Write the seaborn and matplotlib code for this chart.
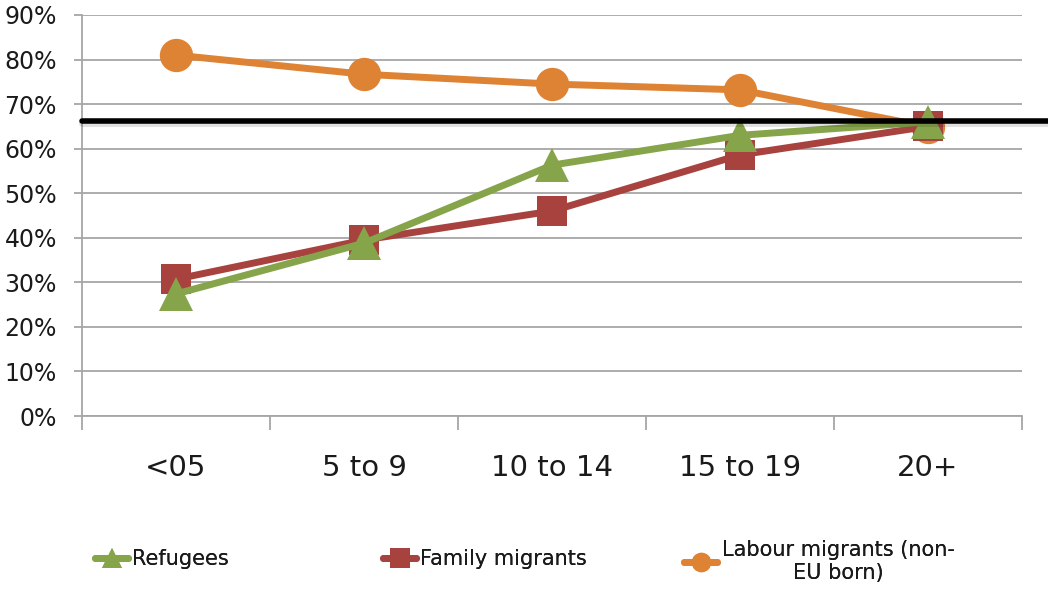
import matplotlib
matplotlib.use("Agg")
import matplotlib.pyplot as plt
import seaborn as sns
import pandas as pd
import numpy as np
from matplotlib.lines import Line2D
from matplotlib.ticker import PercentFormatter, FixedLocator

categories = ["<05", "5 to 9", "10 to 14", "15 to 19", "20+"]
refugees = [0.274, 0.388, 0.563, 0.630, 0.660]
family = [0.307, 0.395, 0.460, 0.586, 0.650]
labour = [0.810, 0.767, 0.745, 0.732, 0.649]
reference_level = 0.662
series_names = ["Refugees", "Family migrants", "Labour migrants (non-\nEU born)"]
y_ticks = [0, 0.1, 0.2, 0.3, 0.4, 0.5, 0.6, 0.7, 0.8, 0.9]

sns.set_theme(style="white")
plt.rcParams["font.family"] = ["DejaVu Sans"]

c_green = "#86A44A"
c_red = "#A8423F"
c_orange = "#DE8234"

fig = plt.figure(figsize=(10.48, 5.90), dpi=100)
ax = fig.add_axes([82/1048, 1-416/590, 940/1048, 401/590])

df = pd.DataFrame({"cat": categories * 3,
                   "val": labour + family + refugees,
                   "series": [series_names[2]]*5 + [series_names[1]]*5 + [series_names[0]]*5})

specs = [(series_names[2], c_orange, "o", 24),
         (series_names[1], c_red, "s", 22),
         (series_names[0], c_green, "^", 24)]
for i, (name, col, mk, ms) in enumerate(specs):
    sub = df[df["series"] == name]
    sns.lineplot(data=sub, x="cat", y="val", ax=ax, color=col, marker=mk,
                 markersize=ms, markeredgewidth=0, linewidth=5, legend=False,
                 zorder=3 + i, sort=False)

ax.set_xlim(-0.5, 4.5)
ax.set_ylim(0, 0.9)
ax.set_xlabel("")
ax.set_ylabel("")

# reference line extending to figure edge
ax.axhline(reference_level - 0.004, xmin=0, xmax=(1048-82)/940, color="#000000",
           alpha=0.12, linewidth=5, clip_on=False, zorder=9)
ax.axhline(reference_level, xmin=0, xmax=(1048-82)/940, color="black",
           linewidth=4, clip_on=False, zorder=10)

ax.yaxis.set_major_locator(FixedLocator(y_ticks))
ax.yaxis.set_major_formatter(PercentFormatter(1.0, decimals=0))
ax.grid(axis="y", color="#A6A6A6", linewidth=1.3)
ax.grid(axis="x", visible=False)
ax.set_axisbelow(True)

for s in ["top", "right"]:
    ax.spines[s].set_visible(False)
ax.spines["left"].set_color("#A6A6A6")
ax.spines["left"].set_linewidth(1.3)
ax.spines["bottom"].set_color("#A6A6A6")
ax.spines["bottom"].set_linewidth(1.3)

ax.set_xticks(range(len(categories)))
ax.set_xticklabels(categories)
ax.set_xticks(np.arange(-0.5, 5.0, 1.0), minor=True)
ax.tick_params(axis="x", which="major", length=0, pad=27, labelsize=21, labelcolor="#1a1a1a")
ax.tick_params(axis="x", which="minor", length=10, width=1.3, color="#A6A6A6", direction="out", bottom=True)
ax.tick_params(axis="y", which="major", length=6, width=1.3, color="#A6A6A6", direction="out",
               left=True, pad=12, labelsize=17, labelcolor="#1a1a1a")

# legends
leg_specs = [(series_names[0], c_green, "^", (95/1048, 1-549/590)),
             (series_names[1], c_red, "s", (383/1048, 1-549/590)),
             (series_names[2], c_orange, "o", (684/1048, 1-540/590))]
for name, col, mk, pos in leg_specs:
    h = Line2D([], [], color=col, marker=mk, markersize=14, linewidth=5, markeredgewidth=0)
    lg = fig.legend(handles=[h], labels=[name], loc="upper left", bbox_to_anchor=pos,
                    frameon=False, fontsize=15, handlelength=1.6, handletextpad=0.2,
                    borderaxespad=0, borderpad=0)
    for t in lg.get_texts():
        t.set_multialignment("center")
        t.set_color("#1a1a1a")
    fig.add_artist(lg)

fig.savefig("out.png", dpi=100)
